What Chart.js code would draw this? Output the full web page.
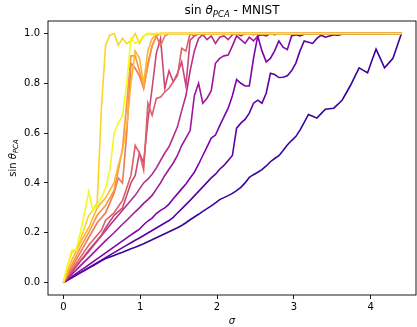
<!DOCTYPE html>
<html><head><meta charset="utf-8">
<script src="https://cdn.jsdelivr.net/npm/chart.js@4.4.0/dist/chart.umd.min.js"></script>
<style>html,body{margin:0;padding:0;background:#fff;}canvas{display:block;}</style>
</head><body>
<canvas id="c" width="417" height="327" style="width:417px;height:327px"></canvas>
<script>
const sigma = [0,0.055,0.11,0.165,0.22,0.275,0.33,0.385,0.44,0.495,0.55,0.605,0.66,0.715,0.77,0.825,0.88,0.935,0.99,1.045,1.1,1.155,1.21,1.265,1.32,1.375,1.43,1.485,1.54,1.595,1.65,1.705,1.76,1.815,1.87,1.925,1.98,2.035,2.09,2.145,2.2,2.255,2.31,2.365,2.42,2.475,2.53,2.585,2.64,2.695,2.75,2.805,2.86,2.915,2.97,3.025,3.08,3.135,3.19,3.245,3.3,3.355,3.41,3.465,3.52,3.575,3.63,3.685,3.74,3.795,3.85,3.905,3.96,4.015,4.07,4.125,4.18,4.235,4.29,4.345,4.4];

const s1 = [0,.01,.019,.029,.039,.048,.058,.067,.077,.087,.096,.103,.109,.116,.122,.129,.136,.142,.149,.156,.164,.172,.18,.188,.196,.204,.212,.22,.229,.24,.252,.263,.274,.286,.297,.308,.32,.333,.341,.349,.358,.369,.382,.40,.422,.433,.443,.453,.468,.485,.498,.509,.53,.552,.57,.586,.612,.643,.675,.668,.66,.678,.696,.698,.70,.716,.733,.763,.793,.828,.862,.852,.842,.89,.937,.90,.862,.881,.90,.95,1.0];
const s2 = [0,.01,.02,.03,.04,.05,.06,.07,.08,.09,.10,.11,.12,.13,.14,.15,.16,.17,.179,.189,.199,.209,.219,.229,.239,.249,.262,.279,.296,.313,.33,.348,.366,.384,.402,.42,.435,.455,.47,.49,.51,.62,.64,.655,.68,.72,.732,.72,.76,.84,.835,.823,.824,.83,.85,.88,.93,.97,.965,.96,.98,.993,.985,.99,.995,.993,.997,.998,.997,.998,.999,1,.998,1,1,.999,1,1,1,1,1];
const s3 = [0,.012,.024,.036,.048,.059,.071,.083,.095,.107,.119,.131,.143,.155,.167,.179,.191,.203,.214,.232,.247,.259,.277,.29,.30,.315,.336,.356,.376,.396,.42,.443,.475,.51,.545,.58,.592,.63,.665,.70,.75,.815,.80,.789,.789,.90,.99,.93,.886,.90,.93,.97,.945,.935,.99,.995,.99,.997,1,.998,1,1,.999,1,1,1,1,1,1,1,1,1,1,1,1,1,1,1,1,1,1];
const s4 = [0,.017,.034,.05,.067,.084,.10,.117,.134,.151,.168,.184,.20,.217,.234,.25,.267,.284,.30,.318,.333,.35,.375,.40,.43,.455,.48,.51,.55,.58,.61,.75,.80,.72,.74,.77,.88,.90,.91,.913,.95,.99,.975,.96,.985,.97,.99,.995,.99,1,.995,1,1,.998,1,1,1,1,1,1,1,1,1,1,1,1,1,1,1,1,1,1,1,1,1,1,1,1,1,1,1];
const s5 = [0,.021,.042,.063,.084,.105,.125,.146,.167,.188,.209,.23,.25,.27,.29,.31,.33,.35,.375,.40,.415,.435,.46,.49,.52,.545,.585,.625,.69,.75,.85,.93,.98,.995,.975,.99,.96,.985,.99,.975,.995,1,.99,1,1,.995,1,1,1,1,1,1,1,1,1,1,1,1,1,1,1,1,1,1,1,1,1,1,1,1,1,1,1,1,1,1,1,1,1,1,1];
const s6 = [0,.022,.043,.065,.087,.108,.13,.15,.17,.19,.22,.245,.27,.285,.30,.35,.40,.43,.52,.48,.65,.78,.92,.98,.78,.85,.806,.84,.886,.79,.973,.99,1,.995,1,1,1,1,1,1,1,1,1,1,1,1,1,1,1,1,1,1,1,1,1,1,1,1,1,1,1,1,1,1,1,1,1,1,1,1,1,1,1,1,1,1,1,1,1,1,1];
const s7 = [0,.025,.05,.075,.10,.125,.15,.17,.19,.21,.25,.265,.28,.305,.33,.38,.43,.55,.52,.452,.72,.672,.739,.745,.765,.78,.806,.83,.94,.93,1,.99,1,1,1,1,1,1,1,1,1,1,1,1,1,1,1,1,1,1,1,1,1,1,1,1,1,1,1,1,1,1,1,1,1,1,1,1,1,1,1,1,1,1,1,1,1,1,1,1,1];
const s8 = [0,.03,.06,.09,.12,.15,.18,.21,.24,.26,.28,.32,.36,.42,.40,.60,.88,.86,.83,.78,.88,.95,.99,.95,.99,1,1,1,1,1,1,1,1,1,1,1,1,1,1,1,1,1,1,1,1,1,1,1,1,1,1,1,1,1,1,1,1,1,1,1,1,1,1,1,1,1,1,1,1,1,1,1,1,1,1,1,1,1,1,1,1];
const s9 = [0,.035,.07,.105,.14,.17,.20,.235,.27,.29,.31,.34,.37,.45,.54,.72,.91,.91,.85,.78,.87,.95,.99,1,1,1,1,1,1,1,1,1,1,1,1,1,1,1,1,1,1,1,1,1,1,1,1,1,1,1,1,1,1,1,1,1,1,1,1,1,1,1,1,1,1,1,1,1,1,1,1,1,1,1,1,1,1,1,1,1,1];
const s10 = [0,.045,.09,.125,.16,.19,.22,.26,.30,.32,.34,.37,.40,.47,.53,.63,.80,.93,.90,.80,.93,.98,.995,1,1,1,1,1,1,1,1,1,1,1,1,1,1,1,1,1,1,1,1,1,1,1,1,1,1,1,1,1,1,1,1,1,1,1,1,1,1,1,1,1,1,1,1,1,1,1,1,1,1,1,1,1,1,1,1,1,1];
const s11 = [0,.07,.12,.13,.17,.22,.27,.29,.32,.70,.953,.993,1,.953,.98,.96,.97,1,.96,.99,1,.995,1,1,1,1,1,1,1,1,1,1,1,1,1,1,1,1,1,1,1,1,1,1,1,1,1,1,1,1,1,1,1,1,1,1,1,1,1,1,1,1,1,1,1,1,1,1,1,1,1,1,1,1,1,1,1,1,1,1,1];
const s12 = [0,.07,.13,.13,.20,.28,.365,.29,.31,.34,.38,.45,.60,.64,.67,.80,.98,.96,.97,.99,1,1,1,1,1,1,1,1,1,1,1,1,1,1,1,1,1,1,1,1,1,1,1,1,1,1,1,1,1,1,1,1,1,1,1,1,1,1,1,1,1,1,1,1,1,1,1,1,1,1,1,1,1,1,1,1,1,1,1,1,1];

const seriesList = [s1,s2,s3,s4,s5,s6,s7,s8,s9,s10,s11,s12];
const seriesColors = ['#3a049a','#5c01a6','#7e03a8','#9c179e','#b52f8c','#cc4778','#de5f65','#ed7953','#f89540','#fdb42f','#fbd524','#f0f921'];

const xTicks = [0,1,2,3,4];
const xTickLabels = ['0','1','2','3','4'];
const yTicks = [0,0.2,0.4,0.6,0.8,1.0];
const yTickLabels = ['0.0','0.2','0.4','0.6','0.8','1.0'];

const FONT = "'DejaVu Sans', sans-serif";

function drawMath(ctx, parts, x, y, align) {
  // parts: [text, style, size, dy]
  let w = 0;
  parts.forEach(p => { ctx.font = (p[1] ? 'italic ' : '') + p[2] + 'px ' + FONT; w += ctx.measureText(p[0]).width; });
  let cx = align === 'center' ? x - w / 2 : x;
  parts.forEach(p => {
    ctx.font = (p[1] ? 'italic ' : '') + p[2] + 'px ' + FONT;
    ctx.fillText(p[0], cx, y + p[3]);
    cx += ctx.measureText(p[0]).width;
  });
}

const decor = {
  id: 'decor',
  afterDatasetsDraw(chart) {
    const ctx = chart.ctx, a = chart.chartArea;
    ctx.save();
    ctx.strokeStyle = '#000';
    ctx.lineWidth = 0.9;
    ctx.strokeRect(a.left, a.top, a.right - a.left, a.bottom - a.top);
    ctx.restore();
  },
  afterDraw(chart) {
    const ctx = chart.ctx, a = chart.chartArea;
    ctx.save();
    ctx.fillStyle = '#000';
    ctx.textBaseline = 'alphabetic';
    const cx = (a.left + a.right) / 2;
    drawMath(ctx, [['sin ', false, 12, 0], ['\u03B8', true, 12, 0], ['PCA', true, 8.5, 2.5], [' - MNIST', false, 12, 0]], cx, 14, 'center');
    drawMath(ctx, [['\u03C3', true, 10, 0]], cx, 324, 'center');
    ctx.translate(16, (a.top + a.bottom) / 2);
    ctx.rotate(-Math.PI / 2);
    drawMath(ctx, [['sin ', false, 10, 0], ['\u03B8', true, 10, 0], ['PCA', true, 7, 2]], 0, 0, 'center');
    ctx.restore();
  }
};

const datasets = seriesList.map((s, i) => ({
  data: sigma.map((x, j) => ({ x: x, y: s[j] })),
  borderColor: seriesColors[i],
  borderWidth: 1.6,
  pointRadius: 0,
  tension: 0,
  fill: false,
  order: seriesList.length - i
}));

new Chart(document.getElementById('c'), {
  type: 'line',
  data: { datasets },
  options: {
    responsive: false,
    animation: false,
    devicePixelRatio: 1,
    layout: { padding: { top: 21, right: 1, left: 0, bottom: 0 } },
    plugins: { legend: { display: false }, tooltip: { enabled: false }, title: { display: false } },
    scales: {
      x: {
        type: 'linear', min: -0.2, max: 4.59,
        afterBuildTicks: s => { s.ticks = xTicks.map(v => ({ value: v })); },
        afterFit: s => { s.height = 32; },
        ticks: { callback: (v, i) => xTickLabels[i], font: { family: FONT, size: 10 }, color: '#000', padding: 2, maxRotation: 0 },
        grid: { display: true, drawOnChartArea: false, drawTicks: true, tickLength: 4, color: '#000', lineWidth: 0.9 },
        border: { display: false }
      },
      y: {
        type: 'linear', min: -0.05, max: 1.05,
        afterBuildTicks: s => { s.ticks = yTicks.map(v => ({ value: v })); },
        afterFit: s => { s.width = 48; },
        ticks: { callback: (v, i) => yTickLabels[i], font: { family: FONT, size: 10 }, color: '#000', padding: 4 },
        grid: { display: true, drawOnChartArea: false, drawTicks: true, tickLength: 4, color: '#000', lineWidth: 0.9 },
        border: { display: false }
      }
    }
  },
  plugins: [decor]
});
</script>
</body></html>
